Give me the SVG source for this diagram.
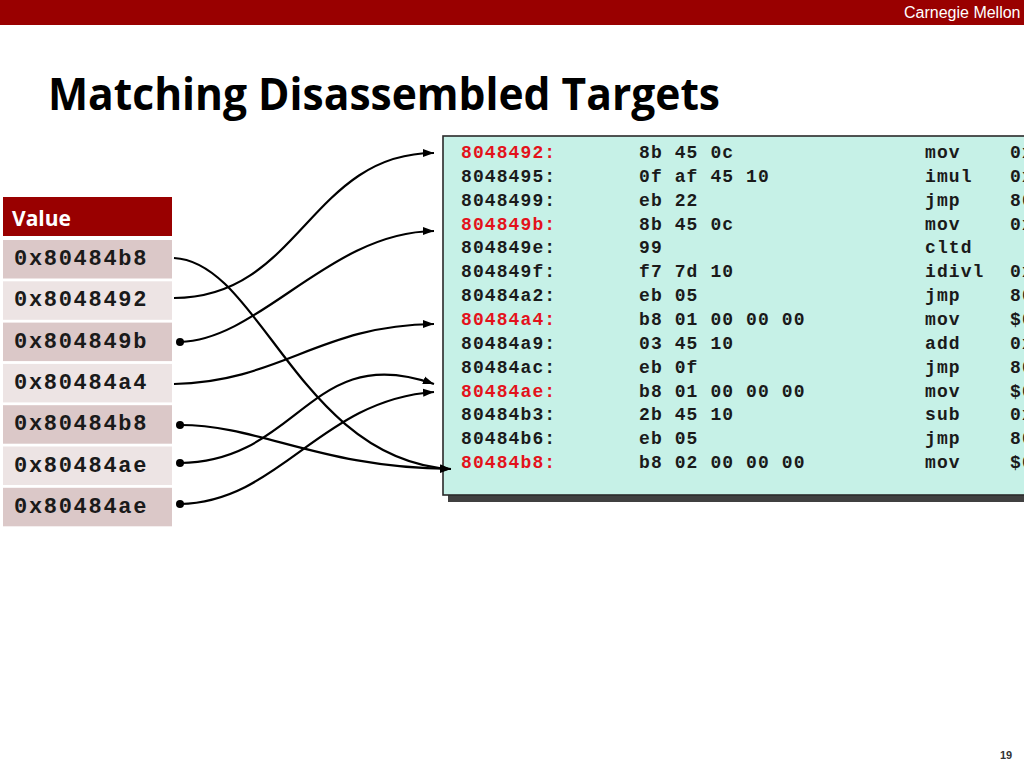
<svg xmlns="http://www.w3.org/2000/svg" width="1024" height="768" viewBox="0 0 1024 768">
<style>
.val{font-family:"Liberation Mono","Courier New",monospace;font-weight:bold;font-size:22px;letter-spacing:1.7px;fill:#1a1a1a}
.code{font-family:"Liberation Mono","Courier New",monospace;font-weight:bold;font-size:18px;letter-spacing:1.1px;fill:#1a1a1a}
.red{fill:#E3121B}
.dark{fill:#DBC8C8}
.light{fill:#EDE4E4}
.conn{fill:none;stroke:#000;stroke-width:2.2}
</style>
<defs>
<marker id="arr" markerWidth="12" markerHeight="10" refX="11" refY="5" orient="auto" markerUnits="userSpaceOnUse">
<path d="M0,1 L11,5 L0,9 Z" fill="#000"/>
</marker>
<marker id="dot" markerWidth="10" markerHeight="10" refX="5" refY="5" markerUnits="userSpaceOnUse">
<circle cx="5" cy="5" r="4" fill="#000"/>
</marker>
</defs>
<rect width="1024" height="768" fill="#fff"/>
<g id="header">
<rect x="0" y="0" width="1024" height="25" fill="#990000"/>
<text x="904" y="18" font-family="Liberation Sans, Arial, sans-serif" font-size="16" fill="#fff">Carnegie Mellon</text>
</g>
<text id="title" x="48" y="110" font-family="Open Sans, sans-serif" font-weight="bold" font-size="45" textLength="672" lengthAdjust="spacingAndGlyphs" fill="#000">Matching Disassembled Targets</text>
<g id="table">
<g id="hdr"><rect x="3" y="197" width="169" height="39" fill="#990000"/><text x="12" y="226" font-family="Open Sans, sans-serif" font-weight="bold" font-size="21" fill="#fff">Value</text></g>
<g id="r0"><rect class="dark" x="3" y="240" width="169" height="38.5"/><text class="val" x="14" y="265">0x80484b8</text></g>
<g id="r1"><rect class="light" x="3" y="281.3" width="169" height="38.5"/><text class="val" x="14" y="306.3">0x8048492</text></g>
<g id="r2"><rect class="dark" x="3" y="322.6" width="169" height="38.5"/><text class="val" x="14" y="347.6">0x804849b</text></g>
<g id="r3"><rect class="light" x="3" y="363.9" width="169" height="38.5"/><text class="val" x="14" y="388.9">0x80484a4</text></g>
<g id="r4"><rect class="dark" x="3" y="405.2" width="169" height="38.5"/><text class="val" x="14" y="430.2">0x80484b8</text></g>
<g id="r5"><rect class="light" x="3" y="446.5" width="169" height="38.5"/><text class="val" x="14" y="471.5">0x80484ae</text></g>
<g id="r6"><rect class="dark" x="3" y="487.8" width="169" height="38.5"/><text class="val" x="14" y="512.8">0x80484ae</text></g>
</g>
<g id="codebox">
<rect x="448" y="141" width="600" height="361" fill="#404040"/>
<rect x="443" y="136" width="600" height="359" fill="#C6F1E7" stroke="#2a2a2a" stroke-width="1.6"/>
<g class="code">
<text class="code red" x="461" y="158">8048492:</text><text class="code" x="639" y="158">8b 45 0c</text><text class="code" x="925" y="158">mov</text><text class="code" x="1010" y="158">0x</text>
<text class="code" x="461" y="181.8">8048495:</text><text class="code" x="639" y="181.8">0f af 45 10</text><text class="code" x="925" y="181.8">imul</text><text class="code" x="1010" y="181.8">0x</text>
<text class="code" x="461" y="205.7">8048499:</text><text class="code" x="639" y="205.7">eb 22</text><text class="code" x="925" y="205.7">jmp</text><text class="code" x="1010" y="205.7">80</text>
<text class="code red" x="461" y="229.5">804849b:</text><text class="code" x="639" y="229.5">8b 45 0c</text><text class="code" x="925" y="229.5">mov</text><text class="code" x="1010" y="229.5">0x</text>
<text class="code" x="461" y="253.4">804849e:</text><text class="code" x="639" y="253.4">99</text><text class="code" x="925" y="253.4">cltd</text>
<text class="code" x="461" y="277.2">804849f:</text><text class="code" x="639" y="277.2">f7 7d 10</text><text class="code" x="925" y="277.2">idivl</text><text class="code" x="1010" y="277.2">0x</text>
<text class="code" x="461" y="301.1">80484a2:</text><text class="code" x="639" y="301.1">eb 05</text><text class="code" x="925" y="301.1">jmp</text><text class="code" x="1010" y="301.1">80</text>
<text class="code red" x="461" y="324.9">80484a4:</text><text class="code" x="639" y="324.9">b8 01 00 00 00</text><text class="code" x="925" y="324.9">mov</text><text class="code" x="1010" y="324.9">$0</text>
<text class="code" x="461" y="348.8">80484a9:</text><text class="code" x="639" y="348.8">03 45 10</text><text class="code" x="925" y="348.8">add</text><text class="code" x="1010" y="348.8">0x</text>
<text class="code" x="461" y="372.6">80484ac:</text><text class="code" x="639" y="372.6">eb 0f</text><text class="code" x="925" y="372.6">jmp</text><text class="code" x="1010" y="372.6">80</text>
<text class="code red" x="461" y="396.5">80484ae:</text><text class="code" x="639" y="396.5">b8 01 00 00 00</text><text class="code" x="925" y="396.5">mov</text><text class="code" x="1010" y="396.5">$0</text>
<text class="code" x="461" y="420.3">80484b3:</text><text class="code" x="639" y="420.3">2b 45 10</text><text class="code" x="925" y="420.3">sub</text><text class="code" x="1010" y="420.3">0x</text>
<text class="code" x="461" y="444.2">80484b6:</text><text class="code" x="639" y="444.2">eb 05</text><text class="code" x="925" y="444.2">jmp</text><text class="code" x="1010" y="444.2">80</text>
<text class="code red" x="461" y="468">80484b8:</text><text class="code" x="639" y="468">b8 02 00 00 00</text><text class="code" x="925" y="468">mov</text><text class="code" x="1010" y="468">$0</text>
</g>
</g>
<g id="connectors">
<path class="conn" d="M174,258 C260,262 300,460 451,469" marker-end="url(#arr)"/>
<path class="conn" d="M174,298 C300,298 310,153 434,153" marker-end="url(#arr)"/>
<path class="conn" d="M180,342 C260,340 330,232 434,231" marker-start="url(#dot)" marker-end="url(#arr)"/>
<path class="conn" d="M174,384 C280,382 320,325 434,324" marker-end="url(#arr)"/>
<path class="conn" d="M180,425 C260,425 320,468 451,469" marker-start="url(#dot)" marker-end="url(#arr)"/>
<path class="conn" d="M180,463 C300,462 310,340 434,384" marker-start="url(#dot)" marker-end="url(#arr)"/>
<path class="conn" d="M180,504 C280,502 320,400 434,392" marker-start="url(#dot)" marker-end="url(#arr)"/>
</g>
<text id="page" x="1000" y="759" font-family="Liberation Sans, Arial, sans-serif" font-weight="bold" font-size="11" fill="#333">19</text>
</svg>
